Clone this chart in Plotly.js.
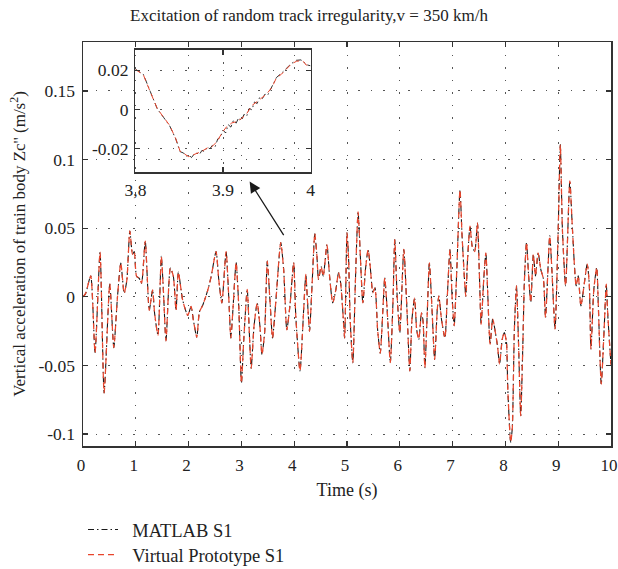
<!DOCTYPE html>
<html>
<head>
<meta charset="utf-8">
<script src="https://cdn.plot.ly/plotly-3.0.1.min.js"></script>
<style>
html,body{margin:0;padding:0;background:#fff;}
#chart{width:618px;height:569px;}
</style>
</head>
<body>
<div id="chart"></div>
<script>
// ---- Data ----
const timeS = [
 0.00,0.05,0.146,0.228,0.323,0.40,0.507,0.583,0.653,0.716,0.78,0.83,0.887,0.938,0.97,
 1.014,1.065,1.109,1.179,1.255,1.318,1.356,1.42,1.483,1.521,1.572,1.654,1.711,1.762,1.806,1.888,1.984,
 2.047,2.091,2.155,2.205,2.269,2.364,2.427,2.52,2.57,2.63,2.71,2.76,2.80,2.84,2.90,2.95,
 3.00,3.045,3.11,3.15,3.185,3.24,3.30,3.35,3.39,3.44,3.49,3.54,3.59,3.65,3.745,3.80,3.86,3.92,3.99,
 4.03,4.11,4.18,4.22,4.25,4.29,4.34,4.39,4.43,4.46,4.51,4.55,4.62,4.67,4.73,4.79,4.84,4.88,4.92,4.955,
 5.00,5.03,5.06,5.11,5.16,5.21,5.25,5.30,5.35,5.40,5.44,5.49,5.53,5.58,5.63,5.68,5.715,5.76,5.82,5.87,5.905,5.95,
 6.00,6.076,6.13,6.19,6.23,6.28,6.32,6.36,6.41,6.44,6.475,6.52,6.56,6.61,6.66,6.71,6.74,6.79,6.855,6.90,6.95,6.99,
 7.03,7.08,7.14,7.18,7.25,7.28,7.33,7.37,7.42,7.47,7.51,7.54,7.59,7.63,7.66,7.71,7.76,7.81,7.85,7.89,7.94,7.98,
 8.02,8.045,8.10,8.13,8.17,8.21,8.25,8.29,8.33,8.36,8.40,8.44,8.48,8.53,8.57,8.62,8.67,8.72,8.76,8.84,8.88,8.94,
 9.00,9.04,9.08,9.14,9.22,9.27,9.34,9.38,9.43,9.55,9.59,9.62,9.675,9.73,9.76,9.815,9.87,9.91,9.94,10.0
];
const accelMATLAB = [
 0.0,0.0025,0.0153,-0.0406,0.0325,-0.070,0.0094,-0.037,0.0,0.0246,0.0025,0.012,0.048,0.031,0.033,
 0.015,0.0135,0.010,0.0406,-0.0098,0.005,-0.012,-0.028,0.0295,0.006,-0.032,0.021,0.015,-0.0098,0.018,-0.0025,-0.0135,
 -0.007,-0.017,-0.0295,-0.011,-0.006,0.005,0.0148,0.033,0.013,-0.0044,0.033,0.0,-0.030,-0.009,0.025,-0.007,
 -0.063,-0.031,0.0054,-0.026,-0.052,-0.021,-0.0044,-0.021,-0.042,-0.026,0.026,-0.002,-0.030,-0.0044,0.0395,0.020,-0.024,-0.006,0.025,
 -0.014,-0.054,-0.009,0.0163,-0.002,-0.025,0.010,0.046,0.030,0.0127,0.022,0.015,0.038,0.015,-0.0044,0.0054,0.0176,0.010,-0.010,-0.030,
 0.0466,0.028,-0.0165,-0.048,0.0126,0.062,0.032,-0.0044,0.020,0.0345,0.022,0.003,0.0066,-0.024,-0.041,-0.009,0.0138,-0.009,-0.048,-0.0044,0.0417,0.0005,
 -0.026,0.0345,-0.0044,-0.054,-0.0165,-0.0007,-0.024,-0.031,-0.0117,-0.0177,-0.0517,-0.0117,0.0248,-0.009,-0.0456,-0.009,0.0005,-0.0165,-0.030,0.0005,0.0345,0.0,
 -0.021,0.020,0.078,0.044,0.0005,0.025,0.0515,0.037,0.033,0.054,0.0129,-0.020,0.0129,0.032,0.008,-0.0345,-0.016,-0.026,-0.0357,-0.049,-0.031,-0.026,
 -0.033,-0.067,-0.106,-0.096,-0.0235,0.008,-0.0357,-0.0867,-0.0357,0.012,0.0396,0.0153,-0.004,0.031,0.0153,0.032,0.020,0.013,-0.015,0.0444,0.020,-0.0235,
 0.049,0.111,0.049,0.008,0.0845,0.049,0.008,0.0153,-0.0066,0.0238,0.008,-0.038,0.0056,0.0214,-0.0066,-0.0636,-0.0235,0.0092,-0.0138,-0.050
];
const accelVP = accelMATLAB.slice();

const insetTimeVP = [3.800,3.809,3.817,3.825,3.832,3.839,3.846,3.851,3.855,3.861,3.865,3.870,3.876,3.882,3.887,3.893,3.899,3.904,3.910,3.916,3.921,3.927,3.933,3.939,3.944,3.950,3.956,3.961,3.967,3.973,3.978,3.984,3.989,3.992,3.995,4.000];
const insetVP = [0.0203,0.0176,0.0088,0.0003,-0.0039,-0.0081,-0.0149,-0.0213,-0.0224,-0.0241,-0.0233,-0.0224,-0.0213,-0.0196,-0.0191,-0.0165,-0.0118,-0.0089,-0.0069,-0.0061,-0.0047,-0.0022,0.0020,0.0040,0.0057,0.0079,0.0113,0.0160,0.0180,0.0209,0.0231,0.0245,0.0248,0.0243,0.0226,0.0223];
const insetTimeMATLAB = [3.800,3.809,3.817,3.825,3.832,3.839,3.846,3.851,3.855,3.858,3.861,3.864,3.867,3.870,3.873,3.876,3.879,3.882,3.885,3.888,3.891,3.894,3.897,3.900,3.903,3.906,3.909,3.912,3.915,3.918,3.921,3.924,3.927,3.930,3.933,3.936,3.939,3.942,3.945,3.948,3.951,3.956,3.961,3.967,3.973,3.978,3.984,3.989,3.992,3.995,4.000];
const insetMATLAB = [0.0205,0.0178,0.0090,0.0002,-0.0040,-0.0083,-0.0150,-0.0215,-0.0222,-0.0238,-0.0232,-0.0245,-0.0228,-0.0222,-0.0230,-0.0208,-0.0215,-0.0192,-0.0200,-0.0182,-0.0190,-0.0150,-0.0142,-0.0105,-0.0120,-0.0078,-0.0090,-0.0055,-0.0070,-0.0042,-0.0058,-0.0025,-0.0035,0.0005,-0.0002,0.0038,0.0030,0.0062,0.0055,0.0078,0.0072,0.0115,0.0162,0.0185,0.0212,0.0233,0.0250,0.0252,0.0243,0.0228,0.0222];

const seriesNames = ["\u00a0\u00a0MATLAB S1", "\u00a0\u00a0Virtual Prototype S1"];
const xTickVals = [0,1,2,3,4,5,6,7,8,9,10];
const yTickVals = [-0.1,-0.05,0,0.05,0.1,0.15];
const yTickText = ["-0.1","-0.05","0","0.05","0.1","0.15"];
const insetXTickVals = [3.8,3.9,4.0];
const insetXTickText = ["3,8","3.9","4"];
const insetYTickVals = [-0.02,0,0.02];
const insetYTickText = ["-0.02","0","0.02"];

// ---- Styles ----
const FONT = "Liberation Serif, Times New Roman, serif";
const BLACK = "#1a1a1a";
const RED = "#e8452c";
const AXC = "#333";
const GRID = "#555";
const TICKSZ = 17.5;

const traces = [
  {x: timeS, y: accelMATLAB, type: "scatter", mode: "lines", name: seriesNames[0], legend: "legend",
   line: {color: BLACK, width: 1.1, dash: "6px,3px,1.5px,3px", shape: "spline", smoothing: 0.6}},
  {x: timeS, y: accelVP, type: "scatter", mode: "lines", name: seriesNames[1], legend: "legend2",
   line: {color: RED, width: 1.25, dash: "6px,4px", shape: "spline", smoothing: 0.6}},
  {x: insetTimeMATLAB, y: insetMATLAB, xaxis: "x2", yaxis: "y2", type: "scatter", mode: "lines",
   showlegend: false, line: {color: BLACK, width: 0.9, dash: "6px,3px,1.5px,3px"}},
  {x: insetTimeVP, y: insetVP, xaxis: "x2", yaxis: "y2", type: "scatter", mode: "lines",
   showlegend: false, line: {color: RED, width: 1, dash: "6px,4px"}}
];

const axisCommon = {
  showline: true, linecolor: AXC, linewidth: 1.5, mirror: "allticks",
  ticks: "inside", ticklen: 5, tickwidth: 1.2, tickcolor: AXC,
  showgrid: true, gridcolor: GRID, gridwidth: 1, griddash: "1.5px,11px",
  zeroline: false, automargin: false, ticklabeloverflow: "allow",
  tickfont: {family: FONT, size: TICKSZ, color: "#222"}
};

const legendCommon = {xref: "paper", yref: "container", x: 0, xanchor: "left", yanchor: "middle",
  bgcolor: "rgba(0,0,0,0)", font: {family: FONT, size: 18.5, color: "#222"}};

const layout = {
  width: 618, height: 569,
  margin: {l: 83, r: 7, t: 42, b: 123},
  paper_bgcolor: "#fff", plot_bgcolor: "rgba(0,0,0,0)",
  font: {family: FONT, size: 16, color: "#222"},
  title: {text: "Excitation of random track irregularity,v = 350 km/h", automargin: false,
          font: {family: FONT, size: 17, color: "#222"}, x: 0.5, xanchor: "center", y: 0.973, yanchor: "middle"},
  xaxis: Object.assign({}, axisCommon, {
    range: [0, 10], tickvals: xTickVals, ticklabelstandoff: 3, ticklabelshift: -2,
    tickfont: {family: FONT, size: 17, color: "#222"},
    title: {text: "Time (s)", font: {family: FONT, size: 18, color: "#222"}, standoff: 9}
  }),
  yaxis: Object.assign({}, axisCommon, {
    range: [-0.1087, 0.1857], tickvals: yTickVals, ticktext: yTickText, ticklabelstandoff: 3,
    title: {text: "Vertical acceleration of train body Zc'' (m/s<sup>2</sup>)", font: {family: FONT, size: 17, color: "#222"}, standoff: 8}
  }),
  xaxis2: Object.assign({}, axisCommon, {
    domain: [0.0994, 0.4309], anchor: "y2", ticklabelstandoff: 1,
    range: [3.8, 4.0], tickvals: insetXTickVals, ticktext: insetXTickText
  }),
  yaxis2: Object.assign({}, axisCommon, {
    domain: [0.677, 0.981], anchor: "x2", ticklabelstandoff: 2,
    range: [-0.0321, 0.0304], tickvals: insetYTickVals, ticktext: insetYTickText
  }),
  showlegend: true,
  legend: Object.assign({}, legendCommon, {y: (569 - 530) / 569}),
  legend2: Object.assign({}, legendCommon, {y: (569 - 555) / 569}),
  annotations: [{
    x: 3.156, y: 0.084, xref: "x", yref: "y", ax: 35, ay: 55, axref: "pixel", ayref: "pixel",
    text: "", showarrow: true, arrowhead: 2, arrowsize: 1.7, arrowwidth: 1.3, arrowcolor: "#1a1a1a"
  }]
};

Plotly.newPlot("chart", traces, layout, {displayModeBar: false, staticPlot: true});
</script>
</body>
</html>
